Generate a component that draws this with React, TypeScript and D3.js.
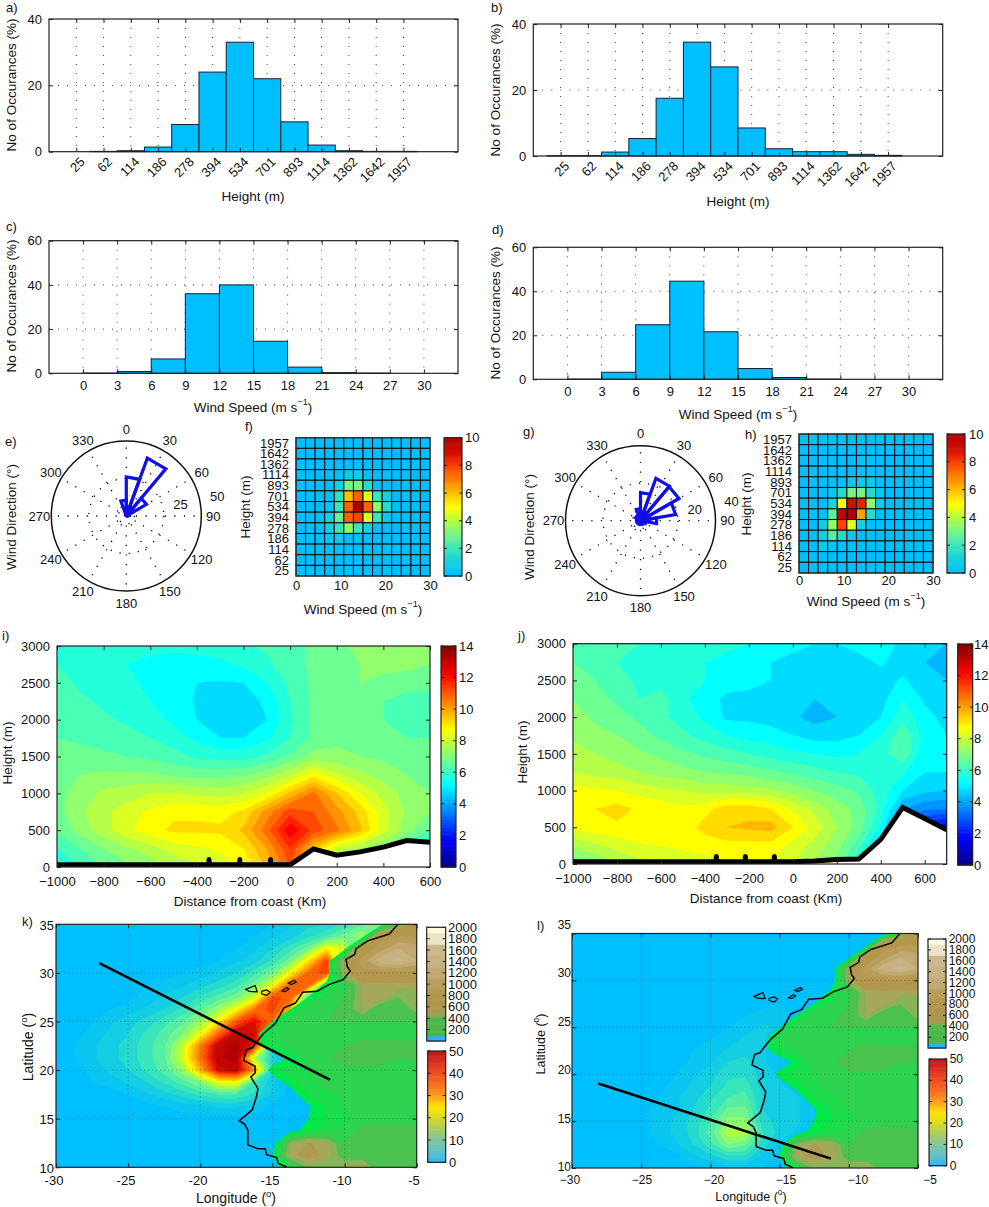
import { useEffect, useRef } from "react";
import * as d3 from "d3";

const FONT = "'Liberation Sans', Arial, sans-serif";

// histograms a-d
const heightLabels = ["25", "62", "114", "186", "278", "394", "534", "701", "893", "1114", "1362", "1642", "1957"];
const heightPctA = [0, 0.1, 0.3, 1.4, 8.2, 24, 33, 22, 9, 2, 0.3, 0.1, 0.1];
const heightPctB = [0.1, 0.1, 1.2, 5.3, 17.5, 34.5, 27, 8.5, 2.2, 1.3, 1.3, 0.5, 0.2];
const speedEdges = [0, 3, 6, 9, 12, 15, 18, 21, 24, 27];
const speedPctC = [0.1, 0.8, 6.5, 36, 40, 14.5, 2.8, 0.3, 0.1, 0];
const speedPctD = [0.1, 3.2, 24.8, 44.6, 21.6, 4.9, 0.8, 0.1, 0, 0];

// wind roses e, g: 18 bins of 20 degrees, clockwise from north
const roseE = [26, 41, 15.5, 2, 0.5, 0, 0, 0, 0, 0, 0, 0, 0, 0, 0, 0, 0.5, 10.6];
const roseG = [15, 24, 23.7, 19, 8.7, 3, 2, 1.5, 2, 2, 1.5, 1.5, 2, 2, 2, 3, 3, 6.4];

// height / wind speed tables f, h: rows from 1957 m down to 25 m, 14 speed bins
const tableF = [
  [0, 0, 0, 0, 0, 0, 0, 0, 0, 0, 0, 0, 0, 0],
  [0, 0, 0, 0, 0, 0, 0, 0, 0, 0, 0, 0, 0, 0],
  [0, 0, 0, 0, 0, 0, 0, 0, 0, 0, 0, 0, 0, 0],
  [0, 0, 0, 0, 0, 0.8, 0.8, 0, 0, 0, 0, 0, 0, 0],
  [0, 0, 0, 0, 1, 3, 3, 1.5, 0, 0, 0, 0, 0, 0],
  [0, 0, 0, 0.2, 1.8, 6, 7.5, 4.5, 2, 1, 0, 0, 0, 0],
  [0, 0, 0, 0.3, 2, 7.5, 10, 7.5, 3.5, 1.5, 0, 0, 0, 0],
  [0, 0, 0, 1, 2.8, 7.5, 8, 4.5, 2, 0.5, 0, 0, 0, 0],
  [0, 0, 0, 1, 2, 3.5, 2, 1, 0, 0, 0, 0, 0, 0],
  [0, 0, 0, 0.5, 0.7, 0, 0, 0, 0, 0, 0, 0, 0, 0],
  [0, 0, 0, 0, 0, 0, 0, 0, 0, 0, 0, 0, 0, 0],
  [0, 0, 0, 0, 0, 0, 0, 0, 0, 0, 0, 0, 0, 0],
  [0, 0, 0, 0, 0, 0, 0, 0, 0, 0, 0, 0, 0, 0],
];
const tableH = [
  [0, 0, 0, 0, 0, 0, 0, 0, 0, 0, 0, 0, 0, 0],
  [0, 0, 0, 0, 0, 0, 0, 0, 0, 0, 0, 0, 0, 0],
  [0, 0, 0, 0, 0, 0, 0.4, 0, 0, 0, 0, 0, 0, 0],
  [0, 0, 0, 0, 0, 0, 0.2, 0, 0, 0, 0, 0, 0, 0],
  [0, 0, 0, 0, 0, 0.7, 0.7, 0.7, 0, 0, 0, 0, 0, 0],
  [0, 0, 0, 0.5, 1.5, 3, 3, 1.5, 0.5, 0, 0, 0, 0, 0],
  [0, 0, 0, 1.2, 5, 9, 8.5, 3.5, 0.7, 0, 0, 0, 0, 0],
  [0, 0, 0, 2.5, 9.5, 10, 6.5, 1.5, 0, 0, 0, 0, 0, 0],
  [0, 0, 0.8, 3.5, 8, 4.5, 1, 0, 0, 0, 0, 0, 0, 0],
  [0, 0, 1, 2.5, 1.5, 0.5, 0, 0, 0, 0, 0, 0, 0, 0],
  [0, 0, 0.7, 0.3, 0, 0, 0, 0, 0, 0, 0, 0, 0, 0],
  [0, 0, 0, 0, 0, 0, 0, 0, 0, 0, 0, 0, 0, 0],
  [0, 0, 0, 0, 0, 0, 0, 0, 0, 0, 0, 0, 0, 0],
];

// cross sections i, j: rows 3000 m down to 0 m every 250 m, columns every 100 km
const sectionI = [
  [6.0, 5.9, 5.6, 5.6, 5.6, 5.6, 5.7, 5.7, 5.9, 6.1, 6.3, 6.6, 6.9, 7.1, 7.1, 7.1, 7.1],
  [6.0, 5.9, 5.6, 5.5, 5.4, 5.3, 5.3, 5.4, 5.6, 5.9, 6.3, 6.6, 6.9, 7.0, 7.1, 7.1, 7.0],
  [6.2, 5.9, 5.7, 5.6, 5.4, 5.2, 5.0, 4.95, 5.0, 5.5, 6.1, 6.6, 6.9, 7.0, 6.9, 6.8, 6.7],
  [6.3, 6.1, 5.9, 5.7, 5.5, 5.2, 4.95, 4.75, 4.75, 5.1, 6.0, 6.6, 6.8, 6.7, 6.5, 6.2, 6.2],
  [6.4, 6.2, 6.1, 5.9, 5.7, 5.4, 5.0, 4.8, 4.75, 5.0, 5.9, 6.6, 6.8, 6.6, 6.5, 6.3, 6.3],
  [6.5, 6.4, 6.3, 6.2, 6.0, 5.7, 5.4, 5.0, 5.0, 5.4, 6.0, 6.6, 6.9, 6.7, 6.6, 6.5, 6.5],
  [6.6, 6.7, 6.6, 6.5, 6.4, 6.2, 5.9, 5.8, 5.8, 6.1, 6.6, 7.2, 7.1, 7.0, 6.9, 6.7, 6.6],
  [6.7, 7.0, 7.1, 7.1, 7.1, 6.9, 6.8, 6.8, 6.9, 7.3, 7.9, 8.8, 8.1, 7.6, 7.3, 7.0, 6.8],
  [6.8, 7.3, 7.6, 7.8, 8.0, 8.0, 7.9, 7.8, 8.0, 8.5, 9.6, 10.6, 9.5, 8.5, 7.8, 7.3, 7.0],
  [6.8, 7.4, 7.9, 8.2, 8.6, 8.9, 8.9, 8.8, 9.1, 10.2, 11.3, 11.0, 10.2, 9.3, 8.2, 7.4, 7.0],
  [6.6, 7.2, 7.8, 8.4, 8.8, 9.1, 9.1, 9.1, 9.6, 10.8, 12.4, 11.3, 10.6, 9.6, 8.2, 7.2, 6.5],
  [6.0, 6.5, 7.0, 7.4, 7.8, 8.2, 8.4, 8.6, 9.0, 10.0, 11.5, 9.5, 8.0, 7.5, 7.0, 6.0, 5.5],
  [5.6, 6.0, 6.5, 6.9, 7.2, 7.6, 7.9, 8.2, 8.6, 9.6, 11.0, 9.0, 7.5, 7.0, 6.5, 5.5, 5.0],
];
const sectionJ = [
  [6.5, 6.4, 6.2, 6.0, 6.0, 5.9, 5.7, 5.7, 5.5, 5.2, 5.1, 5.0, 5.0, 5.2, 5.4, 4.8, 4.6, 4.5],
  [6.5, 6.3, 6.0, 5.9, 5.7, 5.5, 5.5, 5.3, 5.2, 5.0, 4.9, 4.8, 4.7, 4.8, 5.1, 4.7, 4.5, 4.4],
  [6.7, 6.5, 6.2, 5.9, 5.8, 5.6, 5.5, 5.2, 5.1, 5.0, 4.8, 4.6, 4.6, 4.7, 4.7, 5.1, 4.6, 4.5],
  [7.0, 6.7, 6.4, 6.0, 6.2, 5.6, 5.2, 4.9, 4.9, 4.9, 4.6, 4.5, 4.5, 4.6, 4.8, 5.5, 4.9, 4.6],
  [7.2, 6.9, 6.7, 6.4, 6.1, 5.8, 5.4, 4.9, 4.9, 4.8, 4.6, 4.3, 4.5, 4.6, 5.0, 5.8, 5.2, 4.8],
  [7.4, 7.2, 7.0, 6.7, 6.4, 6.1, 5.8, 5.5, 5.3, 5.2, 5.0, 4.8, 4.8, 5.0, 5.5, 6.4, 5.3, 5.0],
  [7.7, 7.5, 7.3, 7.1, 6.9, 6.6, 6.4, 6.2, 6.0, 5.8, 5.6, 5.5, 5.4, 5.5, 5.8, 6.4, 5.1, 5.1],
  [8.0, 7.8, 7.7, 7.5, 7.3, 7.2, 7.0, 6.9, 6.8, 6.6, 6.4, 6.2, 6.0, 5.9, 5.8, 5.6, 5.0, 5.0],
  [8.7, 8.6, 8.5, 8.3, 8.1, 8.0, 7.8, 7.8, 7.7, 7.6, 7.3, 7.0, 6.7, 6.4, 5.8, 5.0, 4.6, 4.5],
  [8.9, 9.0, 9.2, 8.9, 8.8, 8.6, 8.8, 9.3, 9.3, 9.0, 8.4, 7.8, 7.3, 6.8, 5.8, 4.0, 3.6, 3.5],
  [8.6, 8.8, 8.9, 9.0, 8.8, 8.7, 9.2, 9.5, 9.6, 9.7, 9.0, 8.3, 7.5, 6.8, 5.4, 3.0, 2.0, 1.5],
  [7.6, 7.9, 8.2, 8.4, 8.5, 8.6, 8.7, 8.8, 8.8, 8.8, 8.3, 7.8, 7.2, 6.2, 4.5, 2.0, 1.0, 1.0],
  [6.6, 7.0, 7.4, 7.8, 8.0, 8.2, 8.3, 8.4, 8.5, 8.5, 8.0, 7.4, 6.8, 5.6, 4.0, 1.5, 1.0, 1.0],
];
const groundI: [number, number][] = [[-1000, 30], [0, 30], [100, 245], [200, 160], [300, 205], [400, 270], [500, 358], [600, 335]];
const groundJ: [number, number][] = [[-1000, 30], [0, 30], [100, 40], [200, 60], [300, 68], [400, 335], [500, 770], [600, 620], [700, 465]];
const stationKm = [-348, -216, -84];

// maps k, l: rows 35N down to 10N, columns 30W to 5W, both every 1.25 degrees
const windK = [
  [0, 0, 0, 0, 0, 0, 0, 0, 0, 0, 0, 0, 1, 3, 5, 6, 9, 13, 14, 3, 0],
  [0, 0, 0, 0, 0, 0, 0, 0, 0, 0, 0, 1, 3, 5, 8, 11, 15, 18, 15, 0, 0],
  [0, 0, 0, 0, 0, 0, 0, 0, 0, 0, 1, 3, 6, 10, 15, 26, 22, 5, 0, 0, 0],
  [0, 0, 0, 0, 0, 0, 0, 0, 0, 1, 3, 5, 9, 15, 27, 40, 15, 0, 0, 0, 0],
  [0, 0, 0, 0, 0, 0, 0, 1, 2, 4, 6, 10, 15, 25, 37, 40, 8, 0, 0, 0, 0],
  [0, 0, 0, 0, 0, 1, 2, 3, 5, 7, 10, 15, 24, 38, 38, 10, 0, 0, 0, 0, 0],
  [0, 0, 0, 0, 0, 2, 4, 6, 9, 12, 15, 22, 39, 38, 10, 0, 0, 0, 0, 0, 0],
  [0, 0, 0, 1, 2, 4, 6, 9, 13, 18, 25, 36, 40, 30, 0, 0, 0, 0, 0, 0, 0],
  [0, 0, 1, 3, 5, 7, 10, 13, 18, 26, 38, 44, 36, 5, 0, 0, 0, 0, 0, 0, 0],
  [0, 0, 2, 4, 6, 9, 12, 16, 24, 37, 47, 46, 25, 0, 0, 0, 0, 0, 0, 0, 0],
  [0, 1, 3, 5, 7, 10, 13, 21, 35, 47, 50, 42, 8, 0, 0, 0, 0, 0, 0, 0, 0],
  [0, 1, 3, 5, 7, 10, 13, 22, 36, 48, 50, 20, 6, 0, 0, 0, 0, 0, 0, 0, 0],
  [0, 0, 2, 4, 6, 9, 12, 18, 31, 45, 47, 33, 6, 0, 0, 0, 0, 0, 0, 0, 0],
  [0, 0, 1, 2, 4, 6, 9, 12, 16, 24, 25, 10, 4, 0, 0, 0, 0, 0, 0, 0, 0],
  [0, 0, 0, 0, 1, 3, 5, 7, 9, 11, 11, 8, 3, 0, 0, 0, 0, 0, 0, 0, 0],
  [0, 0, 0, 0, 0, 0, 1, 2, 3, 4, 4, 2, 0.5, 0, 0, 0, 0, 0, 0, 0, 0],
  [0, 0, 0, 0, 0, 0, 0, 0, 0, 0, 0, 0, 0, 0, 0, 0, 0, 0, 0, 0, 0],
  [0, 0, 0, 0, 0, 0, 0, 0, 0, 0, 0, 0, 0, 0, 0, 0, 0, 0, 0, 0, 0],
  [0, 0, 0, 0, 0, 0, 0, 0, 0, 0, 0, 0, 0, 0, 0, 0, 0, 0, 0, 0, 0],
  [0, 0, 0, 0, 0, 0, 0, 0, 0, 0, 0, 0, 0, 0, 0, 0, 0, 0, 0, 0, 0],
  [0, 0, 0, 0, 0, 0, 0, 0, 0, 0, 0, 0, 0, 0, 0, 0, 0, 0, 0, 0, 0],
];
const windL = [
  [0, 0, 0, 0, 0, 0, 0, 0, 0, 0, 0, 0, 0, 0, 0, 0, 0, 0, 0, 0, 0],
  [0, 0, 0, 0, 0, 0, 0, 0, 0, 0, 0, 0, 0, 0, 0, 0, 0, 0, 0, 0, 0],
  [0, 0, 0, 0, 0, 0, 0, 0, 0, 0, 0, 0, 0, 0, 0, 0, 0, 0, 0, 0, 0],
  [0, 0, 0, 0, 0, 0, 0, 0, 0, 0, 0, 0, 0, 0, 0, 0, 0, 0, 0, 0, 0],
  [0, 0, 0, 0, 0, 0, 0, 0, 0, 0, 0, 0, 0, 0, 0, 0, 0, 0, 0, 0, 0],
  [0, 0, 0, 0, 0, 0, 0, 0, 0, 0, 0, 0, 0, 0, 0, 0, 0, 0, 0, 0, 0],
  [0, 0, 0, 0, 0, 0, 0, 0, 0, 0, 0, 0, 1, 0, 0, 0, 0, 0, 0, 0, 0],
  [0, 0, 0, 0, 0, 0, 0, 0, 0, 0, 1, 2, 2, 0, 0, 0, 0, 0, 0, 0, 0],
  [0, 0, 0, 0, 0, 0, 0, 0, 0, 1, 2, 4, 3, 0, 0, 0, 0, 0, 0, 0, 0],
  [0, 0, 0, 0, 0, 0, 0, 0, 1, 2, 4, 4, 1, 0, 0, 0, 0, 0, 0, 0, 0],
  [0, 0, 0, 0, 0, 0, 0, 1, 2, 4, 5, 4, 1, 0, 0, 0, 0, 0, 0, 0, 0],
  [0, 0, 0, 0, 0, 0, 0, 1.5, 3, 6, 7, 4, 1.5, 0, 0, 0, 0, 0, 0, 0, 0],
  [0, 0, 0, 0, 0, 0, 1, 3, 5, 8, 8, 5, 3, 1, 0, 0, 0, 0, 0, 0, 0],
  [0, 0, 0, 0, 0, 0, 2, 4, 6, 9, 10, 5, 4, 2, 0, 0, 0, 0, 0, 0, 0],
  [0, 0, 0, 0, 0, 1, 3, 5, 8, 11, 12, 6, 5, 4, 1, 0, 0, 0, 0, 0, 0],
  [0, 0, 0, 0, 0, 2, 3, 6, 9, 14, 14, 6, 5, 4, 1, 0, 0, 0, 0, 0, 0],
  [0, 0, 0, 0, 0, 2, 4, 7, 11, 17, 17, 7, 5, 4, 1, 0, 0, 0, 0, 0, 0],
  [0, 0, 0, 0, 0, 2, 4, 7, 12, 20, 20, 9, 5, 3, 0, 0, 0, 0, 0, 0, 0],
  [0, 0, 0, 0, 0, 1, 3, 6, 10, 16, 14, 7, 3, 1, 0, 0, 0, 0, 0, 0, 0],
  [0, 0, 0, 0, 0, 0, 0, 3, 5, 8, 8, 3, 1, 0, 0, 0, 0, 0, 0, 0, 0],
  [0, 0, 0, 0, 0, 0, 0, 0, 1, 2, 2, 1, 0, 0, 0, 0, 0, 0, 0, 0, 0],
];
const terrain = [
  [0, 0, 0, 0, 0, 0, 0, 0, 0, 0, 0, 0, 0, 0, 0, 0, 0, 0, 0, 300, 800],
  [0, 0, 0, 0, 0, 0, 0, 0, 0, 0, 0, 0, 0, 0, 0, 0, 0, 50, 800, 900, 900],
  [0, 0, 0, 0, 0, 0, 0, 0, 0, 0, 0, 0, 0, 0, 0, 0, 50, 700, 1000, 1300, 1200],
  [0, 0, 0, 0, 0, 0, 0, 0, 0, 0, 0, 0, 0, 0, 0, 0, 500, 1000, 1450, 1550, 1300],
  [0, 0, 0, 0, 0, 0, 0, 0, 0, 0, 0, 0, 0, 0, 0, 0, 500, 850, 800, 800, 750],
  [0, 0, 0, 0, 0, 0, 0, 0, 0, 0, 0, 0, 0, 0, 0, 130, 280, 480, 500, 500, 500],
  [0, 0, 0, 0, 0, 0, 0, 0, 0, 0, 0, 0, 0, 0, 100, 230, 300, 480, 520, 400, 420],
  [0, 0, 0, 0, 0, 0, 0, 0, 0, 0, 0, 0, 0, 100, 280, 280, 320, 480, 300, 320, 440],
  [0, 0, 0, 0, 0, 0, 0, 0, 0, 0, 0, 0, 100, 250, 300, 300, 300, 300, 300, 300, 300],
  [0, 0, 0, 0, 0, 0, 0, 0, 0, 0, 0, 60, 220, 260, 270, 270, 270, 270, 270, 270, 270],
  [0, 0, 0, 0, 0, 0, 0, 0, 0, 0, 0, 60, 160, 230, 260, 280, 300, 330, 330, 320, 320],
  [0, 0, 0, 0, 0, 0, 0, 0, 0, 0, 0, 0, 40, 120, 260, 290, 330, 340, 330, 300, 300],
  [0, 0, 0, 0, 0, 0, 0, 0, 0, 0, 0, 0, 130, 180, 220, 280, 290, 290, 280, 280, 280],
  [0, 0, 0, 0, 0, 0, 0, 0, 0, 0, 0, 0, 50, 130, 200, 270, 270, 260, 260, 260, 260],
  [0, 0, 0, 0, 0, 0, 0, 0, 0, 0, 0, 0, 0, 60, 160, 200, 240, 260, 260, 260, 260],
  [0, 0, 0, 0, 0, 0, 0, 0, 0, 0, 0, 0, 0, 0, 90, 160, 230, 260, 260, 260, 260],
  [0, 0, 0, 0, 0, 0, 0, 0, 0, 0, 0, 0, 0, 0, 100, 150, 200, 250, 260, 260, 260],
  [0, 0, 0, 0, 0, 0, 0, 0, 0, 0, 0, 0, 0, 60, 140, 200, 250, 330, 350, 350, 340],
  [0, 0, 0, 0, 0, 0, 0, 0, 0, 0, 0, 0, 30, 450, 560, 500, 300, 330, 380, 380, 370],
  [0, 0, 0, 0, 0, 0, 0, 0, 0, 0, 0, 0, 100, 520, 600, 520, 340, 340, 380, 360, 340],
  [0, 0, 0, 0, 0, 0, 0, 0, 0, 0, 0, 0, 30, 200, 420, 400, 480, 500, 300, 320, 300],
];
const coastline: [number, number][] = [
  [-6.3, 35], [-6.9, 34], [-8.4, 33.3], [-9.2, 32.5], [-9.3, 31.9], [-9.9, 31.4], [-9.8, 30.6], [-9.6, 30.2],
  [-10.1, 29.3], [-11.1, 28.8], [-11.9, 28.1], [-12.9, 28], [-13.4, 26.9], [-14.2, 26.4], [-14.8, 24.8],
  [-15.6, 23.8], [-16.1, 22.9], [-16.4, 22.3], [-16.8, 22.1], [-17, 21], [-16.2, 20.4], [-16.2, 19.7],
  [-16.5, 19.3], [-16, 18.1], [-16.1, 17.3], [-16.4, 15.9], [-17.3, 14.8], [-16.9, 14.4], [-16.7, 13.8],
  [-16.7, 12.3], [-16, 11.9], [-15.5, 11.9], [-15.4, 11.3], [-14.7, 11], [-14.6, 10.4], [-14, 10],
];
const islands: [number, number][][] = [
  [[-16.85, 28.3], [-16.2, 28.7], [-16.05, 28.05], [-16.6, 28.1]],
  [[-15.75, 28.1], [-15.4, 28.25], [-15.15, 28], [-15.4, 27.7], [-15.75, 27.85]],
  [[-14.35, 28.15], [-14, 28.5], [-13.85, 28.35], [-14.15, 28.05]],
  [[-13.9, 28.95], [-13.5, 29.25], [-13.35, 29.05], [-13.7, 28.8]],
];
const transectK: [number, number][] = [[-27, 31], [-11, 19]];
const transectL: [number, number][] = [[-28.1, 19], [-11.3, 11]];

// colour stops
const heatStops: [number, string][] = [
  [0, "#00bfff"], [0.1, "#14cfe0"], [0.2, "#3ae6b8"], [0.3, "#74f58c"], [0.4, "#b0ff40"], [0.5, "#ffff00"],
  [0.6, "#ffbe00"], [0.7, "#ff8000"], [0.8, "#ff4000"], [0.88, "#d81000"], [1, "#b00000"],
];
const windBarStops: [number, string][] = [
  [0, "#30b4f0"], [0.1, "#60c0c8"], [0.2, "#80c4a0"], [0.3, "#a8cc60"], [0.4, "#d8d828"], [0.5, "#ffe600"],
  [0.6, "#ffa020"], [0.7, "#f87020"], [0.8, "#f05020"], [0.9, "#e03024"], [1, "#c01820"],
];
const jetStops: [number, string][] = [
  [0, "#000080"], [0.125, "#0000ff"], [0.375, "#00ffff"], [0.625, "#ffff00"], [0.875, "#ff0000"], [1, "#800000"],
];
const terrainLevels = [100, 150, 220, 300, 400, 470, 550, 700, 900, 1100, 1300, 1500, 1700, 1900];
const terrainColors = ["#00e84a", "#1cdc4c", "#2dd24e", "#4ac24e", "#86b456", "#a4a858", "#b0984e", "#b4964c", "#b89c58", "#c0a870", "#c6b280", "#cab88c", "#efe6c8", "#fff8e0"];
const terrainBarColors = ["#48b848", "#48b848", "#4cb84c", "#50b64c", "#70b050", "#a49c50", "#ae964c", "#b0964c", "#b89c58", "#c0a870", "#c6b280", "#cab88c", "#ece2c4", "#fff8e0"];

function ramp(stops: [number, string][]) {
  return d3.scaleLinear<string>().domain(stops.map(s => s[0])).range(stops.map(s => s[1])).clamp(true);
}

function addText(g: any, x: number, y: number, text: string, opts: any = {}) {
  const t = g.append("text")
    .attr("transform", `translate(${x},${y}) rotate(${opts.rotate ?? 0})`)
    .attr("font-family", FONT)
    .attr("font-size", opts.size ?? 13.5)
    .attr("fill", "#111")
    .attr("text-anchor", opts.anchor ?? "middle")
    .attr("dominant-baseline", "central")
    .text(text);
  if (opts.sup) {
    t.append("tspan").attr("dy", -5).attr("font-size", (opts.size ?? 13.5) * 0.68).text(opts.sup);
    t.append("tspan").attr("dy", 5).text(opts.tail ?? ")");
  }
  return t;
}

// MATLAB style box: inward ticks on every side
function drawAxes(g: any, x: any, y: any, xTicks: number[], yTicks: number[], opts: any = {}) {
  const [x0, x1] = x.range();
  const [y1, y0] = y.range();
  const size = opts.size ?? 13;
  const fmt = opts.xFormat ?? ((d: any) => String(d));
  const bottom = g.append("g").attr("transform", `translate(0,${y1})`)
    .call(d3.axisBottom(x).tickValues(xTicks).tickSize(-4).tickPadding(opts.xPad ?? 8).tickFormat(fmt));
  const left = g.append("g").attr("transform", `translate(${x0},0)`)
    .call(d3.axisLeft(y).tickValues(yTicks).tickSize(-4).tickPadding(opts.yPad ?? 7).tickFormat(opts.yFormat ?? ((d: any) => String(d))));
  g.append("g").attr("transform", `translate(0,${y0})`)
    .call(d3.axisTop(x).tickValues(xTicks).tickSize(-4).tickFormat(() => ""));
  g.append("g").attr("transform", `translate(${x1},0)`)
    .call(d3.axisRight(y).tickValues(yTicks).tickSize(-4).tickFormat(() => ""));
  g.selectAll(".domain").remove();
  g.selectAll(".tick line").attr("stroke", "#222");
  for (const a of [bottom, left]) {
    a.attr("font-family", FONT).attr("font-size", size);
    a.selectAll("text").attr("fill", "#111");
  }
  g.append("rect").attr("x", x0).attr("y", y0).attr("width", x1 - x0).attr("height", y1 - y0)
    .attr("fill", "none").attr("stroke", "#222").attr("stroke-width", 1.2);
  return { bottom, left };
}

function drawGrid(g: any, x: any, y: any, xTicks: number[], yTicks: number[], color = "#444", dash = "1 8", opacity = 1) {
  const [x0, x1] = x.range();
  const [y1, y0] = y.range();
  for (const t of xTicks) {
    g.append("line").attr("x1", x(t)).attr("x2", x(t)).attr("y1", y0).attr("y2", y1)
      .attr("stroke", color).attr("stroke-dasharray", dash).attr("stroke-opacity", opacity);
  }
  for (const t of yTicks) {
    g.append("line").attr("x1", x0).attr("x2", x1).attr("y1", y(t)).attr("y2", y(t))
      .attr("stroke", color).attr("stroke-dasharray", dash).attr("stroke-opacity", opacity);
  }
}

function heightHist(g: any, box: number[], values: number[], ylab: number[], xlab: number[]) {
  const x = d3.scaleLinear().domain([0, 15]).range([box[0], box[1]]);
  const y = d3.scaleLinear().domain([0, 40]).range([box[3], box[2]]);
  const ticks = heightLabels.map((_, i) => i + 1);
  drawGrid(g, x, y, ticks, [20]);
  values.forEach((v, i) => {
    g.append("rect").attr("x", x(i + 0.5)).attr("width", x(i + 1.5) - x(i + 0.5))
      .attr("y", y(v)).attr("height", y(0) - y(v))
      .attr("fill", "#00bfff").attr("stroke", "#123").attr("stroke-width", 1);
  });
  const { bottom } = drawAxes(g, x, y, ticks, [0, 20, 40], { xFormat: (d: any) => heightLabels[d - 1] });
  bottom.selectAll("text")
    .attr("x", 0).attr("y", 0).attr("dy", "0.32em")
    .attr("text-anchor", "end")
    .attr("transform", "translate(6,8) rotate(-45)");
  addText(g, ylab[0], ylab[1], "No of Occurances (%)", { rotate: -90 });
  addText(g, xlab[0], xlab[1], "Height (m)");
}

function speedHist(g: any, box: number[], values: number[], ylab: number[], xlab: number[]) {
  const x = d3.scaleLinear().domain([-3, 33]).range([box[0], box[1]]);
  const y = d3.scaleLinear().domain([0, 60]).range([box[3], box[2]]);
  const ticks = d3.range(0, 31, 3);
  drawGrid(g, x, y, ticks, [20, 40]);
  values.forEach((v, i) => {
    const lo = speedEdges[i];
    g.append("rect").attr("x", x(lo)).attr("width", x(lo + 3) - x(lo))
      .attr("y", y(v)).attr("height", y(0) - y(v))
      .attr("fill", "#00bfff").attr("stroke", "#123").attr("stroke-width", 1);
  });
  drawAxes(g, x, y, ticks, [0, 20, 40, 60], { xPad: 7 });
  addText(g, ylab[0], ylab[1], "No of Occurances (%)", { rotate: -90 });
  addText(g, xlab[0], xlab[1], "Wind Speed (m s", { sup: "\u22121" });
}

function rose(g: any, cx: number, cy: number, values: number[], rMax: number, rLabel: number, ylab: number[]) {
  const r = d3.scaleLinear().domain([0, rMax]).range([0, 75]);
  const c = g.append("g").attr("transform", `translate(${cx},${cy})`);
  d3.range(0, 360, 30).forEach((a: number) => {
    const rad = (a * Math.PI) / 180;
    c.append("line").attr("x1", 0).attr("y1", 0)
      .attr("x2", 75 * Math.sin(rad)).attr("y2", -75 * Math.cos(rad))
      .attr("stroke", "#000").attr("stroke-width", 1.3).attr("stroke-dasharray", "1.2 8.4");
    const px = 87 * Math.sin(rad);
    const py = -87 * Math.cos(rad);
    addText(c, px, py, String(a), { size: 13 });
  });
  for (const rr of [8, r(rLabel)]) {
    c.append("circle").attr("r", rr).attr("fill", "none").attr("stroke", "#000").attr("stroke-width", 1.3).attr("stroke-dasharray", "1.2 8");
  }
  c.append("circle").attr("r", 75).attr("fill", "none").attr("stroke", "#111").attr("stroke-width", 1.5);
  const wedge = d3.lineRadial<number[]>().angle(d => d[0]).radius(d => d[1]).curve(d3.curveLinearClosed);
  values.forEach((v, i) => {
    const a0 = (i * 20 * Math.PI) / 180;
    const a1 = ((i + 1) * 20 * Math.PI) / 180;
    c.append("path")
      .attr("d", wedge([[0, 0], [a0, r(v)], [a1, r(v)]]))
      .attr("fill", "none").attr("stroke", "#0f0fe8").attr("stroke-width", 3.2).attr("stroke-linejoin", "miter");
  });
  const lab = (78 * Math.PI) / 180;
  for (const v of [rLabel, rMax]) {
    addText(c, (r(v) + 18) * Math.sin(lab), -(r(v) + 18) * Math.cos(lab), String(v), { size: 13 });
  }
  addText(g, ylab[0], ylab[1], "Wind Direction (\u00b0)", { rotate: -90 });
}

function table(g: any, box: number[], cells: number[][], colors: any, xlab: number[], ylab: number[], labelX: number, tickPad: number) {
  const x = d3.scaleLinear().domain([0, 30]).range([box[0], box[1]]);
  const col = d3.scaleBand<number>().domain(d3.range(14)).range([box[0], box[1]]);
  const row = d3.scaleBand<number>().domain(d3.range(13)).range([box[2], box[3]]);
  cells.forEach((cols, j) => cols.forEach((v, i) => {
    g.append("rect").attr("x", col(i)).attr("y", row(j))
      .attr("width", col.bandwidth()).attr("height", row.bandwidth())
      .attr("fill", colors(v / 10)).attr("stroke", "#0a0a0a").attr("stroke-width", 1);
  }));
  g.append("g").attr("transform", `translate(0,${box[3]})`)
    .call(d3.axisBottom(x).tickValues([0, 10, 20, 30]).tickSize(0).tickPadding(tickPad))
    .call((a: any) => a.select(".domain").remove())
    .attr("font-family", FONT).attr("font-size", 13)
    .call((a: any) => a.selectAll("text").attr("fill", "#111"));
  [...heightLabels].reverse().forEach((l, j) => {
    addText(g, labelX, row(j)! + row.bandwidth() / 2, l, { anchor: "end", size: 13 });
  });
  g.append("rect").attr("x", box[0]).attr("y", box[2]).attr("width", box[1] - box[0]).attr("height", box[3] - box[2])
    .attr("fill", "none").attr("stroke", "#333").attr("stroke-width", 1.2);
  addText(g, ylab[0], ylab[1], "Height (m)", { rotate: -90 });
  addText(g, xlab[0], xlab[1], "Wind Speed (m s", { sup: "\u22121" });
}

function colorBar(g: any, box: number[], vmax: number, colors: (v: number) => string, ticks: number[], labelX: number, size = 13) {
  const y = d3.scaleLinear().domain([0, vmax]).range([box[3], box[2]]);
  const n = 128;
  d3.range(n).forEach((i: number) => {
    const v = (vmax * (i + 0.5)) / n;
    g.append("rect").attr("x", box[0]).attr("width", box[1] - box[0])
      .attr("y", y((vmax * (i + 1)) / n)).attr("height", (box[3] - box[2]) / n + 0.6)
      .attr("fill", colors(v));
  });
  g.append("rect").attr("x", box[0]).attr("y", box[2]).attr("width", box[1] - box[0]).attr("height", box[3] - box[2])
    .attr("fill", "none").attr("stroke", "#222").attr("stroke-width", 1.2);
  for (const t of ticks) {
    g.append("line").attr("x1", box[1] - 3).attr("x2", box[1]).attr("y1", y(t)).attr("y2", y(t)).attr("stroke", "#222");
    g.append("line").attr("x1", box[0]).attr("x2", box[0] + 3).attr("y1", y(t)).attr("y2", y(t)).attr("stroke", "#222");
    addText(g, labelX, y(t), String(t), { anchor: "start", size });
  }
}

// filled contours of a regular grid; samples sit at the cell centres of d3.contours
function filled(g: any, grid: number[][], xExtent: number[], yExtent: number[], x: any, y: any, levels: number[], color: (i: number) => string) {
  const n = grid[0].length;
  const m = grid.length;
  const gx = d3.scaleLinear().domain([0.5, n - 0.5]).range([x(xExtent[0]), x(xExtent[1])]);
  const gy = d3.scaleLinear().domain([0.5, m - 0.5]).range([y(yExtent[1]), y(yExtent[0])]);
  const path = d3.geoPath(d3.geoTransform({
    point(px: number, py: number) { (this as any).stream.point(gx(px), gy(py)); },
  }));
  const polys = d3.contours().size([n, m]).thresholds(levels)(grid.flat());
  polys.forEach((p: any, i: number) => {
    g.append("path").attr("d", path(p)).attr("fill", color(i)).attr("stroke", color(i)).attr("stroke-width", 0.3);
  });
}

function clipTo(svg: any, id: string, box: number[]) {
  svg.append("clipPath").attr("id", id).append("rect")
    .attr("x", box[0]).attr("y", box[2]).attr("width", box[1] - box[0]).attr("height", box[3] - box[2]);
  return svg.append("g").attr("clip-path", `url(#${id})`);
}

function section(svg: any, id: string, box: number[], xMax: number, grid: number[][], ground: [number, number][], xlab: number[], ylab: number[], xPad: number, yPad: number) {
  const x = d3.scaleLinear().domain([-1000, xMax]).range([box[0], box[1]]);
  const y = d3.scaleLinear().domain([0, 3000]).range([box[3], box[2]]);
  const jet = ramp(jetStops);
  const levels = d3.range(0, 14, 0.5);
  const c = clipTo(svg, id, box);
  filled(c, grid, [-1000, xMax], [0, 3000], x, y, levels, i => jet((levels[i] + 0.25) / 14));
  const area = d3.area<[number, number]>().x(d => x(d[0])).y0(box[3]).y1(d => y(d[1]));
  c.append("path").attr("d", area(ground)).attr("fill", "#fff");
  const line = d3.line<[number, number]>().x(d => x(d[0])).y(d => y(d[1]));
  c.append("path").attr("d", line(ground)).attr("fill", "none").attr("stroke", "#000").attr("stroke-width", 5);
  for (const km of stationKm) {
    c.append("ellipse").attr("cx", x(km)).attr("cy", y(85)).attr("rx", 2.6).attr("ry", 3.8).attr("fill", "#000");
  }
  drawAxes(svg, x, y, d3.range(-1000, xMax + 1, 200), d3.range(0, 3001, 500), {
    xPad, yPad, xFormat: (d: any) => String(d).replace("-", "\u2212"),
  });
  addText(svg, xlab[0], xlab[1], "Distance from coast (Km)");
  addText(svg, ylab[0], ylab[1], "Height (m)", { rotate: -90 });
}

function map(svg: any, id: string, box: number[], wind: number[][], transect: [number, number][], o: any) {
  const x = d3.scaleLinear().domain([-30, -5]).range([box[0], box[1]]);
  const y = d3.scaleLinear().domain([10, 35]).range([box[3], box[2]]);
  const heat = ramp(heatStops);
  const c = clipTo(svg, id, box);
  c.append("rect").attr("x", box[0]).attr("y", box[2]).attr("width", box[1] - box[0]).attr("height", box[3] - box[2]).attr("fill", "#00bfff");
  const levels = d3.range(1, 50, 2.5);
  filled(c, wind, [-30, -5], [10, 35], x, y, levels, i => heat((levels[i] + 1.25) / 50));
  filled(c, terrain, [-30, -5], [10, 35], x, y, terrainLevels, i => terrainColors[i]);
  drawGrid(c, x, y, [-25, -20, -15, -10], [15, 20, 25, 30], "#063838", "1.5 2.5", 0.3);
  const line = d3.line<[number, number]>().x(d => x(d[0])).y(d => y(d[1]));
  c.append("path").attr("d", line(coastline)).attr("fill", "none").attr("stroke", "#000").attr("stroke-width", 1.5);
  for (const isl of islands) {
    c.append("path").attr("d", line(isl) + "Z").attr("fill", "none").attr("stroke", "#000").attr("stroke-width", 1.2);
  }
  c.append("path").attr("d", line(transect)).attr("fill", "none").attr("stroke", "#000").attr("stroke-width", 2.6);

  // ticks, then labels on their own scale: in panel l the labels run wider than the axes
  const xl = d3.scaleLinear().domain([-30, -5]).range(o.xLabelRange);
  const yl = d3.scaleLinear().domain([10, 35]).range(o.yLabelRange);
  const lonTicks = [-30, -25, -20, -15, -10, -5];
  const latTicks = [10, 15, 20, 25, 30, 35];
  drawAxes(svg, x, y, lonTicks, latTicks, { xFormat: () => "", yFormat: () => "" });
  for (const t of lonTicks) addText(svg, xl(t), o.xTickY, String(t).replace("-", o.minus), { size: o.size });
  for (const t of latTicks) addText(svg, o.yTickX, yl(t), String(t), { anchor: "end", size: o.size });
  addText(svg, o.xlab[0], o.xlab[1], "Longitude (", { sup: o.degree, size: o.labelSize });
  addText(svg, o.ylab[0], o.ylab[1], "Latitude (", { sup: o.degree, rotate: -90, size: o.labelSize });

  const tColor = (v: number) => {
    const i = terrainLevels.findIndex((l, k) => v >= l && v < (terrainLevels[k + 1] ?? 1e9));
    return i < 0 ? "#30b0f0" : terrainBarColors[i];
  };
  colorBar(svg, o.terrainBar, 2000, tColor, d3.range(200, 2001, 200), o.barLabelX, o.size);
  const wb = ramp(windBarStops);
  colorBar(svg, o.windBar, 50, v => wb(v / 50), [0, 10, 20, 30, 40, 50], o.barLabelX + 1, o.size);
}

const panelTags: [string, number, number][] = [
  ["a)", 6, 7], ["b)", 491, 7], ["c)", 6, 226], ["d)", 492, 229], ["e)", 5, 441], ["f)", 245, 426],
  ["g)", 523, 431], ["h)", 745, 434], ["i)", 2, 635], ["j)", 518, 635], ["k)", 22, 921], ["l)", 537, 925],
];

export default function App() {
  const ref = useRef<SVGSVGElement>(null);

  useEffect(() => {
    if (!ref.current) return;
    const svg = d3.select(ref.current);
    svg.selectAll("*").remove();

    heightHist(svg, [49, 458, 19, 151.7], heightPctA, [11, 85], [253, 196]);
    heightHist(svg, [533.3, 942.7, 24, 156], heightPctB, [495, 90], [738, 201]);
    speedHist(svg, [49, 458, 240.7, 373.3], speedPctC, [11, 306], [253, 407]);
    speedHist(svg, [533.3, 942.7, 247.3, 379.3], speedPctD, [495, 313], [738, 414]);

    rose(svg, 126.3, 516, roseE, 50, 25, [11, 517]);
    rose(svg, 640.5, 520.7, roseG, 40, 20, [529, 527]);

    const heat = ramp(heatStops);
    table(svg, [296, 430, 437.7, 576], tableF, heat, [363, 609], [245, 507], 289, 5);
    colorBar(svg, [444, 462, 437.7, 576], 10, v => heat(v / 10), [0, 2, 4, 6, 8, 10], 465);
    table(svg, [799, 933, 434, 573], tableH, heat, [866, 601], [746, 504], 792, 3);
    colorBar(svg, [947, 965, 434, 573], 10, v => heat(v / 10), [0, 2, 4, 6, 8, 10], 969);

    section(svg, "clip-i", [57, 430, 646, 867], 600, sectionI, groundI, [250, 901.7], [7, 753], 10, 7);
    section(svg, "clip-j", [573, 946.7, 643.7, 864], 700, sectionJ, groundJ, [766, 898], [522, 752], 10, 7);
    const jet = ramp(jetStops);
    colorBar(svg, [441, 456, 646, 867], 14, v => jet(v / 14), d3.range(0, 15, 2), 459);
    colorBar(svg, [957.7, 972.7, 644, 865], 14, v => jet(v / 14), d3.range(0, 15, 2), 974);

    map(svg, "clip-k", [56, 416.7, 924.3, 1167.3], windK, transectK, {
      xLabelRange: [54, 414], yLabelRange: [1168, 925], xTickY: 1180.7, yTickX: 54, minus: "-", degree: "o",
      size: 13, labelSize: 14, xlab: [236, 1198], ylab: [28, 1047],
      terrainBar: [426.7, 445.7, 927.3, 1041], windBar: [427.7, 445.7, 1051, 1162.3], barLabelX: 448,
    });
    map(svg, "clip-l", [572, 918, 933.5, 1168], windL, transectL, {
      xLabelRange: [570, 930], yLabelRange: [1167, 925], xTickY: 1180, yTickX: 571, minus: "\u2212", degree: "o",
      size: 12, labelSize: 12.5, xlab: [751, 1197], ylab: [541, 1044],
      terrainBar: [928, 946, 939, 1048], windBar: [929, 946.7, 1059, 1165.7], barLabelX: 948.7,
    });

    for (const [tag, x, y] of panelTags) addText(svg, x, y, tag, { anchor: "start", size: 13 });
  }, []);

  return <svg ref={ref} width={989} height={1207} style={{ position: "absolute", left: 0, top: 0, background: "#fff" }} />;
}
